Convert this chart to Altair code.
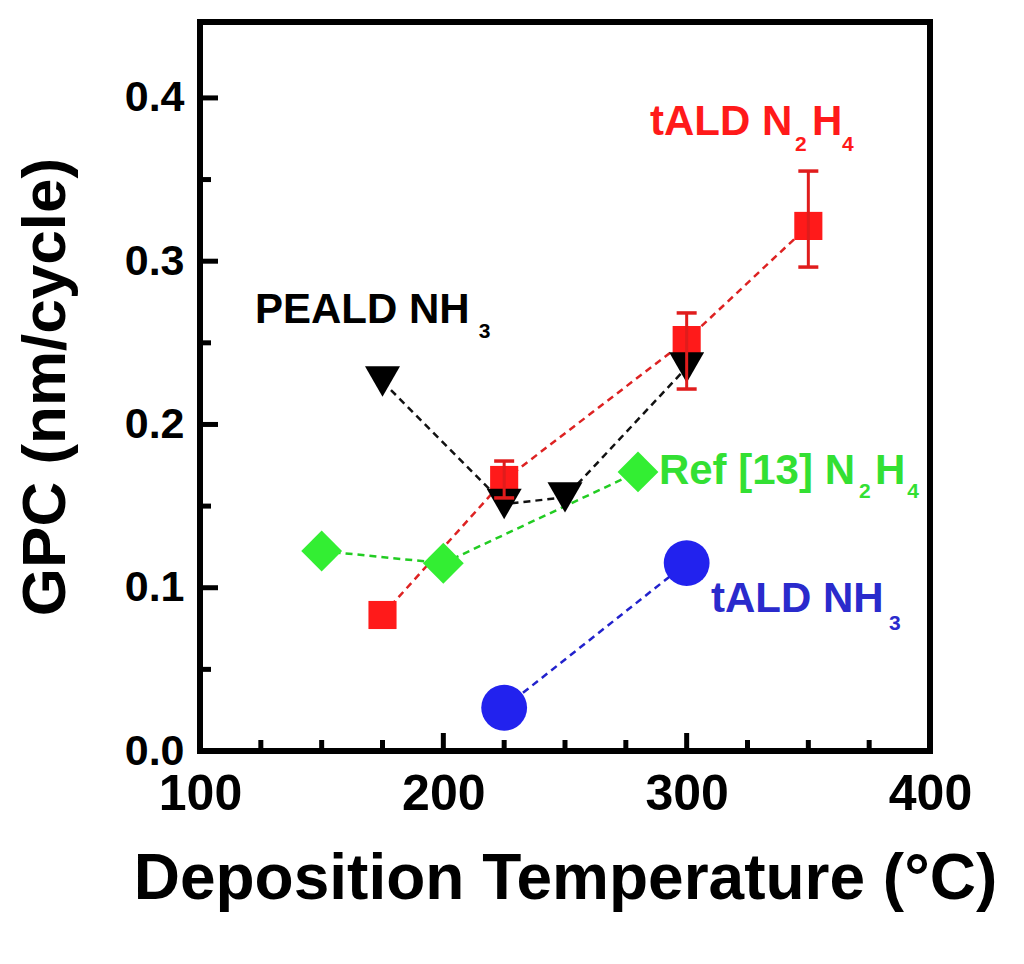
import altair as alt
import pandas as pd

# ---------------- data ----------------
series_names = ["tALD N2H4", "PEALD NH3", "Ref [13] N2H4", "tALD NH3"]

t_tald_n2h4 = [175, 225, 300, 350]
g_tald_n2h4 = [0.0833, 0.166, 0.2517, 0.3216]

t_peald_nh3 = [175, 225, 250, 300]
g_peald_nh3 = [0.2263, 0.1513, 0.1553, 0.2349]

t_ref13 = [150, 200, 280]
g_ref13 = [0.1225, 0.115, 0.1709]

t_tald_nh3 = [225, 300]
g_tald_nh3 = [0.0265, 0.1151]

# error bars of tALD N2H4
err_t = [225, 300, 350]
err_hi = [0.1776, 0.2683, 0.3552]
err_lo = [0.155, 0.2217, 0.2964]

# axis ticks
x_major = [100, 200, 300, 400]
x_minor = [125, 150, 175, 225, 250, 275, 325, 350, 375]
y_major = [0.0, 0.1, 0.2, 0.3, 0.4]
y_minor = [0.05, 0.15, 0.25, 0.35]

# annotation text pieces
ann_text = ["tALD N", "2", "H", "4",
            "PEALD NH", "3",
            "Ref [13] N", "2", "H", "4",
            "tALD NH", "3"]
ann_x = [284.9, 344.5, 351.5, 363.8,
         122.6, 214.6,
         288.6, 370.8, 377.4, 390.6,
         310.0, 383.2]
ann_y = [0.3773, 0.3675, 0.3773, 0.3675,
         0.2621, 0.2530,
         0.1635, 0.1550, 0.1635, 0.1550,
         0.0851, 0.0741]
ann_series = ["tALD N2H4"] * 4 + ["PEALD NH3"] * 2 + ["Ref [13] N2H4"] * 4 + ["tALD NH3"] * 2
ann_sub = [0, 1, 0, 1, 0, 1, 0, 1, 0, 1, 0, 1]

# ---------------- styling ----------------
FONT = "Liberation Sans"
marker_colors = ["#ff1a1a", "#000000", "#33ee33", "#2222ee"]
line_colors = ["#dd2222", "#111111", "#22cc22", "#2222cc"]
text_colors = ["#ff1a1a", "#000000", "#33e033", "#2a2acc"]
shapes = ["square", "triangle-down", "diamond", "circle"]
sizes = [790, 2100, 2100, 880]

W, H = 730, 729

rows = []
for name, ts, gs in [
    ("tALD N2H4", t_tald_n2h4, g_tald_n2h4),
    ("PEALD NH3", t_peald_nh3, g_peald_nh3),
    ("Ref [13] N2H4", t_ref13, g_ref13),
    ("tALD NH3", t_tald_nh3, g_tald_nh3),
]:
    for t, g in zip(ts, gs):
        rows.append({"series": name, "temp": t, "gpc": g})
df = pd.DataFrame(rows)

df_err = pd.DataFrame({"temp": err_t, "hi": err_hi, "lo": err_lo})
df_ann = pd.DataFrame({"text": ann_text, "x": ann_x, "y": ann_y,
                       "series": ann_series, "sub": ann_sub})

xscale = alt.Scale(domain=[100, 400], nice=False, zero=False)
yscale = alt.Scale(domain=[0, 0.4465], nice=False, zero=False)

xaxis = alt.Axis(values=x_major, format="d", ticks=False, domain=False, grid=False,
                 labelFont=FONT, labelFontSize=50, labelFontWeight="bold", labelColor="black",
                 labelPadding=18, labelFlush=False, labelOverlap=False,
                 title="Deposition Temperature (°C)", titleFont=FONT, titleFontSize=64,
                 titleFontWeight="bold", titleColor="black", titlePadding=28)
yaxis = alt.Axis(values=y_major, format=".1f", ticks=False, domain=False, grid=False,
                 labelFont=FONT, labelFontSize=43, labelFontWeight="bold", labelColor="black",
                 labelPadding=16, labelFlush=False, labelOverlap=False,
                 title="GPC (nm/cycle)", titleFont=FONT, titleFontSize=62,
                 titleFontWeight="bold", titleColor="black", titlePadding=47)

X = alt.X("temp:Q", scale=xscale, axis=xaxis)
Y = alt.Y("gpc:Q", scale=yscale, axis=yaxis)

base = alt.Chart(df)

lines = base.mark_line(strokeDash=[7, 5], strokeWidth=2.5).encode(
    x=X, y=Y,
    color=alt.Color("series:N", scale=alt.Scale(domain=series_names, range=line_colors), legend=None),
    detail="series:N",
    order=alt.Order("temp:Q"),
)

points = base.mark_point(filled=True, opacity=1, strokeWidth=0).encode(
    x=X, y=Y,
    fill=alt.Fill("series:N", scale=alt.Scale(domain=series_names, range=marker_colors), legend=None),
    shape=alt.Shape("series:N", scale=alt.Scale(domain=series_names, range=shapes), legend=None),
    size=alt.Size("series:N", scale=alt.Scale(domain=series_names, range=sizes), legend=None),
)

err_base = alt.Chart(df_err)
err_stem = err_base.mark_rule(color="#e01c1c", strokeWidth=3).encode(
    x=X, y=alt.Y("lo:Q", scale=yscale, axis=yaxis), y2="hi:Q")
err_cap_hi = err_base.mark_rule(color="#e01c1c", strokeWidth=3.5, xOffset=-10, x2Offset=10).encode(
    x=X, x2="temp:Q", y=alt.Y("hi:Q", scale=yscale, axis=yaxis))
err_cap_lo = err_base.mark_rule(color="#e01c1c", strokeWidth=3.5, xOffset=-10, x2Offset=10).encode(
    x=X, x2="temp:Q", y=alt.Y("lo:Q", scale=yscale, axis=yaxis))

# inward ticks
def xticks(vals, length):
    return alt.Chart(pd.DataFrame({"temp": vals})).mark_rule(color="black", strokeWidth=5).encode(
        x=X, y=alt.value(H), y2=alt.value(H - length))

def yticks(vals, length):
    return alt.Chart(pd.DataFrame({"gpc": vals})).mark_rule(color="black", strokeWidth=5).encode(
        y=Y, x=alt.value(0), x2=alt.value(length))

ann_main = alt.Chart(df_ann).transform_filter("datum.sub == 0").mark_text(
    font=FONT, fontWeight="bold", fontSize=42, align="left", baseline="alphabetic").encode(
    x=alt.X("x:Q", scale=xscale, axis=xaxis), y=alt.Y("y:Q", scale=yscale, axis=yaxis),
    text="text:N",
    color=alt.Color("series:N", scale=alt.Scale(domain=series_names, range=text_colors), legend=None))
ann_sub_ch = alt.Chart(df_ann).transform_filter("datum.sub == 1").mark_text(
    font=FONT, fontWeight="bold", fontSize=21, align="left", baseline="alphabetic").encode(
    x=alt.X("x:Q", scale=xscale, axis=xaxis), y=alt.Y("y:Q", scale=yscale, axis=yaxis),
    text="text:N",
    color=alt.Color("series:N", scale=alt.Scale(domain=series_names, range=text_colors), legend=None))

chart = alt.layer(
    lines, points, err_stem, err_cap_hi, err_cap_lo,
    xticks(x_major, 18), xticks(x_minor, 11),
    yticks(y_major, 18), yticks(y_minor, 11),
    ann_main, ann_sub_ch,
).resolve_scale(color="independent").properties(
    width=W, height=H,
    autosize=alt.AutoSizeParams(type="none"),
    padding={"left": 192, "top": 14, "right": 80, "bottom": 190},
    background="white",
).configure_view(stroke="black", strokeWidth=6)

chart.save("out.html", embed_options={"renderer": "svg", "actions": False})
